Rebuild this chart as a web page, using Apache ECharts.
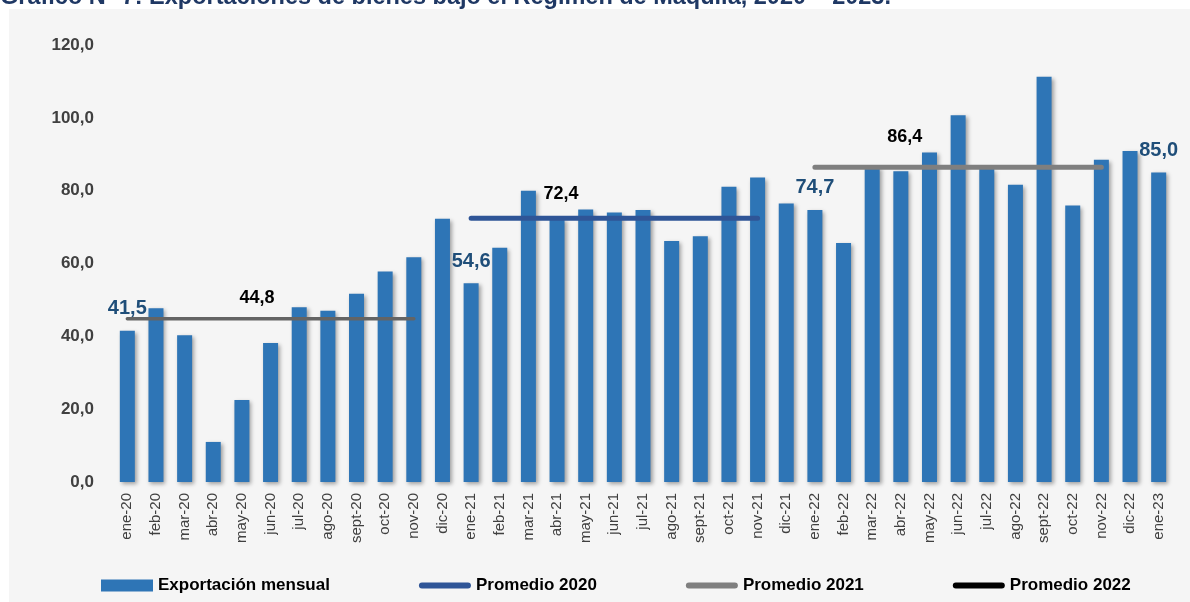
<!DOCTYPE html>
<html>
<head>
<meta charset="utf-8">
<script src="https://cdn.jsdelivr.net/npm/echarts@6/dist/echarts.min.js"></script>
<style>
  html, body { margin: 0; padding: 0; background: #fff; }
  #main { width: 1190px; height: 602px; }
</style>
</head>
<body>
<div id="main"></div>
<script>
// meses
var meses = ['ene-20', 'feb-20', 'mar-20', 'abr-20', 'may-20', 'jun-20', 'jul-20', 'ago-20', 'sept-20', 'oct-20', 'nov-20', 'dic-20',
	'ene-21', 'feb-21', 'mar-21', 'abr-21', 'may-21', 'jun-21', 'jul-21', 'ago-21', 'sept-21', 'oct-21', 'nov-21', 'dic-21',
	'ene-22', 'feb-22', 'mar-22', 'abr-22', 'may-22', 'jun-22', 'jul-22', 'ago-22', 'sept-22', 'oct-22', 'nov-22', 'dic-22',
	'ene-23'];

// exportación mensual (millones)
var exportacion = [41.5, 47.7, 40.3, 11.0, 22.5, 38.2, 48.0, 47.0, 51.7, 57.8, 61.7, 72.3,
	54.6, 64.3, 80.0, 72.2, 74.8, 74.0, 74.7, 66.2, 67.5, 81.1, 83.6, 76.5,
	74.7, 65.6, 86.6, 85.3, 90.5, 100.7, 86.0, 81.6, 111.3, 75.9, 88.5, 90.9,
	85.0];

// meses con etiqueta sobre la barra
var mesesEtiqueta = ['ene-20', 'ene-21', 'ene-22', 'ene-23'];

// promedios anuales y tramo que cubre cada linea
var promedios = [44.8, 72.4, 86.4];
var promedioDesde = ['ene-20', 'ene-21', 'ene-22'];
var promedioHasta = ['nov-20', 'nov-21', 'nov-22'];
var promedioEtiquetaEn = ['may-20', 'abr-21', 'abr-22'];

var yTicks = [0, 20, 40, 60, 80, 100, 120];

var titulo = 'Gráfico N° 7: Exportaciones de bienes bajo el Régimen de Maquila, 2020 – 2023.';

function fmt(v) {
	return v.toFixed(1).replace('.', ',');
}

var myChart = echarts.init(document.getElementById('main'));

// estilos de cada linea de promedio
var lineaColor = ['#646464', '#2f5597', '#7f7f7f'];
var lineaAncho = [3.5, 5, 5];
var etiquetaDist = [11, 15, 21];
var etiquetaOffset = [15, 4, 4];

// icono de linea redondeada para la leyenda
var iconoLinea = 'path://M3,0 L49,0 A3,3 0 0 1 49,6 L3,6 A3,3 0 0 1 3,0 Z';

function serieProm(k, nombre) {
	var a = meses.indexOf(promedioDesde[k]);
	var b = meses.indexOf(promedioHasta[k]);
	var e = meses.indexOf(promedioEtiquetaEn[k]);
	var data = meses.map(function(m, i) {
		if (i < a || i > b) return null;
		if (i == e) {
			return {
				value: promedios[k],
				symbol: 'circle',
				symbolSize: 1,
				itemStyle: { color: 'rgba(0,0,0,0)' },
				label: {
					show: true,
					position: 'top',
					distance: etiquetaDist[k],
					offset: [etiquetaOffset[k], 0],
					formatter: fmt(promedios[k]),
					color: '#000',
					fontWeight: 'bold',
					fontSize: 18,
					fontFamily: '"Liberation Sans", Arial, sans-serif'
				}
			};
		}
		return promedios[k];
	});
	return {
		name: nombre,
		type: 'line',
		data: data,
		symbol: 'none',
		z: 5,
		lineStyle: { color: lineaColor[k], width: lineaAncho[k], cap: 'round' },
		itemStyle: { color: lineaColor[k] }
	};
}

var barData = exportacion.map(function(v, i) {
	if (mesesEtiqueta.indexOf(meses[i]) >= 0) {
		return {
			value: v,
			label: {
				show: true,
				position: 'top',
				distance: 12,
				formatter: fmt(v),
				color: '#1f4e79',
				fontWeight: 'bold',
				fontSize: 20,
				fontFamily: '"Liberation Sans", Arial, sans-serif'
			}
		};
	}
	return v;
});

var option = {
	backgroundColor: '#fff',
	animation: false,
	graphic: [{
		type: 'text',
		z: -5,
		style: {
			text: titulo,
			x: 0,
			y: 10,
			verticalAlign: 'bottom',
			font: 'bold 23.5px "Liberation Sans", Arial, sans-serif',
			fill: '#1f3864'
		}
	}, {
		type: 'rect',
		z: -10,
		shape: { x: 9, y: 9, width: 1181, height: 593 },
		style: { fill: '#f5f5f5' }
	}],
	grid: {
		left: 113,
		right: 17,
		top: 45,
		bottom: 120
	},
	legend: {
		left: 101,
		top: 577,
		padding: 0,
		itemGap: 89,
		itemWidth: 52,
		itemHeight: 12,
		textStyle: {
			color: '#000',
			fontSize: 17,
			fontWeight: 'bold',
			fontFamily: '"Liberation Sans", Arial, sans-serif'
		},
		data: [
			{ name: 'Exportación mensual', icon: 'rect' },
			{ name: 'Promedio 2020', icon: iconoLinea, itemStyle: { color: '#2f5597' } },
			{ name: 'Promedio 2021', icon: iconoLinea, itemStyle: { color: '#7f7f7f' } },
			{ name: 'Promedio 2022', icon: iconoLinea, itemStyle: { color: '#000' } }
		]
	},
	xAxis: {
		type: 'category',
		data: meses,
		axisLine: { show: false },
		axisTick: { show: false },
		axisLabel: {
			interval: 0,
			rotate: 90,
			margin: 11,
			color: '#404040',
			fontSize: 15,
			fontFamily: '"Liberation Sans", Arial, sans-serif'
		}
	},
	yAxis: {
		type: 'value',
		min: yTicks[0],
		max: yTicks[yTicks.length - 1],
		interval: 20,
		splitLine: { show: false },
		axisLine: { show: false },
		axisTick: { show: false },
		axisLabel: {
			margin: 19,
			color: '#404040',
			fontSize: 17,
			fontWeight: 'bold',
			fontFamily: '"Liberation Sans", Arial, sans-serif',
			formatter: function(v) { return fmt(v); }
		}
	},
	series: [{
		name: 'Exportación mensual',
		type: 'bar',
		data: barData,
		barWidth: 15,
		itemStyle: {
			color: '#2e75b6',
			shadowBlur: 4,
			shadowColor: 'rgba(0,0,0,0.35)',
			shadowOffsetX: 2,
			shadowOffsetY: 2
		}
	},
		serieProm(0, 'Promedio 2020'),
		serieProm(1, 'Promedio 2021'),
		serieProm(2, 'Promedio 2022')
	]
};

myChart.setOption(option);
</script>
</body>
</html>
